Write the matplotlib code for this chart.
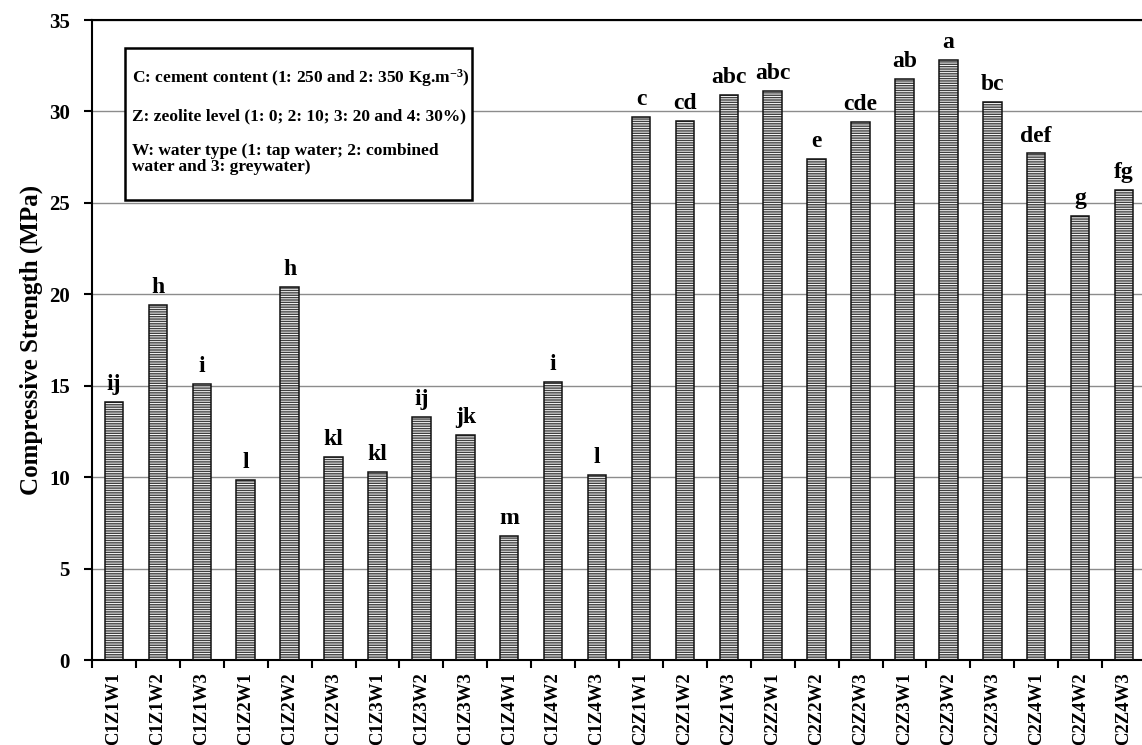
import numpy as np
import matplotlib
matplotlib.use('Agg')
import matplotlib.pyplot as plt
from matplotlib.patches import Rectangle

plt.rcParams['font.family'] = ['Liberation Serif', 'DejaVu Serif']
plt.rcParams['font.weight'] = 'bold'
plt.rcParams['mathtext.fontset'] = 'custom'
plt.rcParams['mathtext.rm'] = 'Liberation Serif:bold'
plt.rcParams['mathtext.bf'] = 'Liberation Serif:bold'
plt.rcParams['mathtext.default'] = 'bf'
plt.rcParams['hatch.linewidth'] = 0.7

treatments = ['C1Z1W1', 'C1Z1W2', 'C1Z1W3', 'C1Z2W1', 'C1Z2W2', 'C1Z2W3',
              'C1Z3W1', 'C1Z3W2', 'C1Z3W3', 'C1Z4W1', 'C1Z4W2', 'C1Z4W3',
              'C2Z1W1', 'C2Z1W2', 'C2Z1W3', 'C2Z2W1', 'C2Z2W2', 'C2Z2W3',
              'C2Z3W1', 'C2Z3W2', 'C2Z3W3', 'C2Z4W1', 'C2Z4W2', 'C2Z4W3']
strength = [14.1, 19.4, 15.1, 9.85, 20.4, 11.1,
            10.3, 13.3, 12.3, 6.8, 15.2, 10.1,
            29.7, 29.5, 30.9, 31.1, 27.4, 29.4,
            31.8, 32.8, 30.5, 27.7, 24.3, 25.7]
groups = ['ij', 'h', 'i', 'l', 'h', 'kl',
          'kl', 'ij', 'jk', 'm', 'i', 'l',
          'c', 'cd', 'abc', 'abc', 'e', 'cde',
          'ab', 'a', 'bc', 'def', 'g', 'fg']
note_lines = [r'C: cement content (1: 250 and 2: 350 Kg.m$^{-3}$)',
              'Z: zeolite level (1: 0; 2: 10; 3: 20 and 4: 30%)',
              'W: water type (1: tap water; 2: combined\nwater and 3: greywater)']

W, H = 1142, 745
fig = plt.figure(figsize=(W / 100, H / 100), dpi=100)
# axes runs a little past the right edge, as in the original
ax = fig.add_axes([92 / W, 85 / H, 1054 / W, 640 / H])

x = np.arange(len(treatments))
bw = 0.42
ax.bar(x, strength, width=bw, color='#404040', hatch='-------',
       edgecolor='white', linewidth=0, zorder=2)
ax.bar(x, strength, width=bw, fill=False, edgecolor='#111111', linewidth=1.1, zorder=3)

for xi, v, g in zip(x, strength, groups):
    ax.annotate(g, (xi, v), xytext=(0, 5), textcoords='offset points',
                ha='center', va='bottom', fontsize=17, fontweight='bold')

ax.set_xlim(-0.5, len(treatments) - 0.5)
ax.set_ylim(0, 35)
ax.set_yticks(np.arange(0, 36, 5))
ax.yaxis.grid(True, color='#8c8c8c', linewidth=1.0, zorder=0)
ax.set_axisbelow(True)

ax.set_xticks(x)
ax.set_xticklabels(treatments, rotation=90, fontsize=13.5, fontweight='bold')
ax.set_xticks(np.arange(-0.5, len(treatments), 1), minor=True)
ax.tick_params(axis='x', which='major', length=0, pad=9)
ax.tick_params(axis='x', which='minor', length=6, width=1.5, direction='out')
ax.tick_params(axis='y', length=6, width=1.5, direction='out', labelsize=15, pad=10)
for lab in ax.get_yticklabels():
    lab.set_fontweight('bold')

for s in ax.spines.values():
    s.set_linewidth(1.5)

ax.set_ylabel('Compressive Strength (MPa)', fontsize=18, fontweight='bold', labelpad=4)

# note box
ax.add_patch(Rectangle((33 / 1054, 0.719), 347 / 1054, 0.2375,
                       transform=ax.transAxes, facecolor='white',
                       edgecolor='black', linewidth=1.8, zorder=4))
ty = [0.909, 0.85, 0.783]
for t, yy in zip(note_lines, ty):
    ax.text(40 / 1054, yy, t, transform=ax.transAxes, fontsize=12.5, fontweight='bold',
            va='center', ha='left', zorder=5, linespacing=1.05)

fig.savefig('out.png', dpi=100)
